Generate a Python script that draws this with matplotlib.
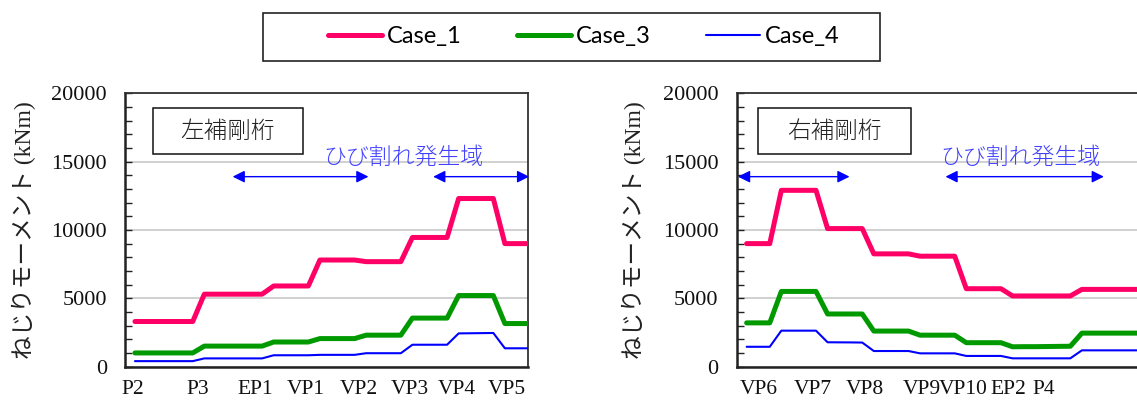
import matplotlib
matplotlib.use("Agg")
import matplotlib.pyplot as plt
from matplotlib.lines import Line2D
from matplotlib.patches import Rectangle
from matplotlib.ticker import MultipleLocator

plt.rcParams["font.family"] = ["Liberation Serif", "Noto Sans CJK JP"]

# ---- data: torsional moment (kNm) at each section along the girders ----
series_names = ["Case_1", "Case_3", "Case_4"]

left_case1 = [3300, 3300, 3300, 3300, 3300, 3300,
              5300, 5300, 5300, 5300, 5300, 5300,
              5900, 5900, 5900, 5900,
              7800, 7800, 7800, 7800,
              7680, 7680, 7680, 7680,
              9450, 9450, 9450, 9450,
              12300, 12300, 12300, 12300,
              9000, 9000, 9000]
left_case3 = [1000, 1000, 1000, 1000, 1000, 1000,
              1500, 1500, 1500, 1500, 1500, 1500,
              1800, 1800, 1800, 1800,
              2050, 2050, 2050, 2050,
              2300, 2300, 2300, 2300,
              3550, 3550, 3550, 3550,
              5200, 5200, 5200, 5200,
              3150, 3150, 3150]
left_case4 = [400, 400, 400, 400, 400, 400,
              600, 600, 600, 600, 600, 600,
              830, 830, 830, 830,
              860, 860, 860, 860,
              980, 980, 980, 980,
              1600, 1600, 1600, 1600,
              2430, 2440, 2450, 2460,
              1340, 1340, 1340]

right_case1 = [9000, 9000, 9000,
               12900, 12900, 12900, 12900,
               10100, 10100, 10100, 10100,
               8250, 8250, 8250, 8250,
               8080, 8080, 8080, 8080,
               5700, 5700, 5700, 5700,
               5170, 5170, 5170, 5170, 5170, 5170,
               5650, 5650, 5650, 5650, 5650, 5650]
right_case3 = [3200, 3200, 3200,
               5500, 5500, 5500, 5500,
               3850, 3850, 3850, 3850,
               2600, 2600, 2600, 2600,
               2300, 2300, 2300, 2300,
               1750, 1750, 1750, 1750,
               1450, 1460, 1460, 1470, 1480, 1490,
               2450, 2450, 2450, 2450, 2450, 2450]
right_case4 = [1450, 1450, 1450,
               2630, 2630, 2630, 2630,
               1780, 1775, 1770, 1760,
               1140, 1140, 1140, 1140,
               970, 970, 970, 970,
               780, 780, 780, 780,
               605, 605, 605, 605, 605, 605,
               1190, 1190, 1190, 1190, 1190, 1190]

# support names and their section positions along each girder
left_supports = ["P2", "P3", "EP1", "VP1", "VP2", "VP3", "VP4", "VP5"]
left_support_pos = [-0.2, 5.4, 10.4, 14.8, 19.4, 23.8, 27.8, 32.2]
right_supports = ["VP6", "VP7", "VP8", "VP9", "VP10", "EP2", "P4"]
right_support_pos = [1.06, 5.7, 10.2, 15.15, 18.75, 22.6, 25.7]

# cracked zones (section ranges)
left_crack_zones = [(8.45, 20.2), (25.8, 34.1)]
right_crack_zones = [(-0.75, 8.9), (17.2, 30.9)]

panel_titles = ["左補剛桁", "右補剛桁"]
crack_label = "ひび割れ発生域"
ylabel_text = "ねじりモーメント (kNm)"

# ---- styling ----
colors = ["#ff0066", "#009900", "#0000ff"]
widths = [3.6, 3.6, 1.5]
serif = "Liberation Serif"
jp_mix = ["Liberation Serif", "Noto Sans CJK JP"]

W, H = 1137, 403
fig = plt.figure(figsize=(W / 100, H / 100), dpi=100)


def px_axes(x0, x1, y_top, y_bot):
    return fig.add_axes([x0 / W, 1 - y_bot / H, (x1 - x0) / W, (y_bot - y_top) / H])


ax_l = px_axes(125, 528, 93.3, 366.6)
ax_r = px_axes(736.7, 1139.7, 93.3, 366.6)

panels = [
    (ax_l, [left_case1, left_case3, left_case4], left_supports, left_support_pos,
     left_crack_zones, panel_titles[0], (152.7, 303.0), 403.4, -0.2506),
    (ax_r, [right_case1, right_case3, right_case4], right_supports, right_support_pos,
     right_crack_zones, panel_titles[1], (758.4, 910.6), 1020.0, -0.2548),
]

for ax, data, sup, sup_pos, zones, title, box_px, crack_px, ylab_x in panels:
    ax_x0 = ax.get_position().x0 * W
    for vals, c, lw, name in zip(data, colors, widths, series_names):
        ax.plot(range(len(vals)), vals, color=c, lw=lw, label=name,
                solid_joinstyle="round", solid_capstyle="round", zorder=3)

    ax.set_xlim(-0.86, 34)
    ax.set_ylim(0, 20000)
    ax.yaxis.set_major_locator(MultipleLocator(5000))
    ax.yaxis.set_minor_locator(MultipleLocator(1000))
    ax.grid(axis="y", which="major", color="#c8c8c8", lw=1.2, zorder=0)
    ax.set_axisbelow(True)

    ax.set_xticks(sup_pos)
    ax.set_xticklabels(sup)
    ax.tick_params(axis="x", length=0, pad=9.5, labelsize=15.5,
                   labelfontfamily=serif, labelcolor="#111111")
    ax.tick_params(axis="y", which="both", direction="in", length=5, width=1,
                   color="#222222", labelsize=16, pad=13,
                   labelfontfamily=serif, labelcolor="#111111")

    for side in ["left", "bottom"]:
        ax.spines[side].set_linewidth(1.8)
        ax.spines[side].set_color("#222222")
    for side in ["top", "right"]:
        ax.spines[side].set_linewidth(1.3)
        ax.spines[side].set_color("#333333")

    ax.set_ylabel(ylabel_text, family=jp_mix, fontsize=17, va="center", color="#222222")
    ax.yaxis.set_label_coords(ylab_x, 0.5)

    # girder name in a framed box
    bx0 = (box_px[0] - ax_x0) / 403
    bx1 = (box_px[1] - ax_x0) / 403
    by0 = (366.6 - 154.0) / 273.3
    by1 = (366.6 - 108.3) / 273.3
    ax.add_patch(Rectangle((bx0, by0), bx1 - bx0, by1 - by0, transform=ax.transAxes,
                           fill=True, fc="white", ec="#111111", lw=1.1, zorder=4))
    ax.text((bx0 + bx1) / 2, (by0 + by1) / 2, title, transform=ax.transAxes,
            ha="center", va="center", family="Noto Sans CJK JP", fontsize=17,
            fontweight="light", color="#222222", zorder=5)

    # cracked zones
    ax.text((crack_px - ax_x0) / 403, (366.6 - 156.7) / 273.3, crack_label,
            transform=ax.transAxes, ha="center", va="center",
            family="Noto Sans CJK JP", fontsize=16.5, fontweight="light",
            color="#4040ff", zorder=5)
    y_arrow = 13900
    for a, b in zones:
        ax.annotate("", xy=(b, y_arrow), xytext=(a, y_arrow),
                    arrowprops=dict(arrowstyle="<|-|>", color="#0000ff", lw=1.0,
                                    mutation_scale=18, shrinkA=0, shrinkB=0),
                    annotation_clip=False, zorder=5)

# shared legend with a rectangular frame
fig.patches.append(Rectangle((263 / W, 1 - 61 / H), (880 - 263) / W, (61 - 12.7) / H,
                             transform=fig.transFigure, fill=False, ec="#222222", lw=1.2))
handles = [Line2D([], [], color=c, lw=lw, solid_capstyle="round")
           for c, lw in zip(colors, widths)]
leg_fs = 17
fs_px = leg_fs * 100 / 72
fig.legend(handles, series_names, loc="center left", bbox_to_anchor=(328 / W, 1 - 36.9 / H),
           ncol=3, frameon=False, borderpad=0, borderaxespad=0,
           handlelength=54 / fs_px, handletextpad=5 / fs_px, columnspacing=55 / fs_px,
           prop={"family": "Lato", "size": leg_fs})

fig.savefig("out.png", dpi=100)
